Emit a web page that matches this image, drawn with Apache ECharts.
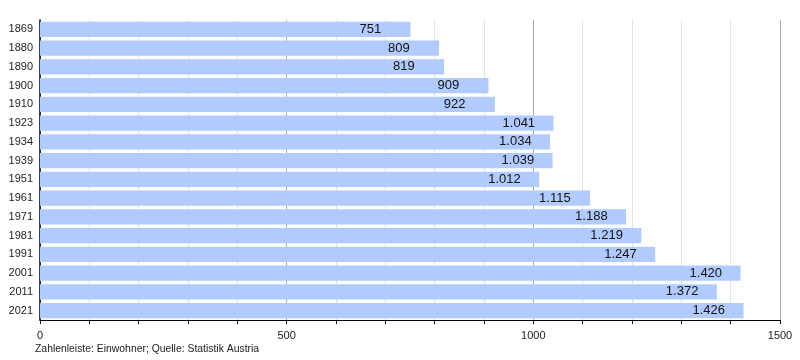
<!DOCTYPE html>
<html><head><meta charset="utf-8">
<script src="https://cdn.jsdelivr.net/npm/echarts@6/dist/echarts.min.js"></script>
<style>html,body{margin:0;padding:0;background:#fff}#c{width:800px;height:360px}</style>
</head><body><div id="c"></div>
<script>
const years = ['1869','1880','1890','1900','1910','1923','1934','1939','1951','1961','1971','1981','1991','2001','2011','2021'];
const population = [751,809,819,909,922,1041,1034,1039,1012,1115,1188,1219,1247,1420,1372,1426];
const xTickLabels = ['0','500','1000','1500'];
const footer = 'Zahlenleiste: Einwohner; Quelle: Statistik Austria';

function fmt(v){ return String(v).replace(/\B(?=(\d{3})+(?!\d))/g,'.'); }

const chart = echarts.init(document.getElementById('c'));
chart.setOption({
  animation:false,
  textStyle:{fontFamily:'Liberation Sans, Arial, sans-serif'},
  grid:{left:40,right:20,top:20,bottom:40},
  graphic:[{type:'text',left:35,top:344,style:{text:footer,fontSize:10.4,fill:'#222',fontFamily:'Liberation Sans, Arial, sans-serif'}}],
  xAxis:{
    type:'value',min:0,max:1500,interval:100,
    axisLine:{show:true,lineStyle:{color:'#000',width:1}},
    axisTick:{show:true,length:4,lineStyle:{color:'#000'}},
    axisLabel:{fontSize:11,color:'#222',margin:10,
      formatter:v=> xTickLabels.indexOf(String(v))>=0 ? String(v) : ''},
    splitLine:{show:true,lineStyle:{color:['#aaaaaa','#e2e2e2','#e2e2e2','#e2e2e2','#e2e2e2'],width:1}}
  },
  yAxis:{
    type:'category',data:years,inverse:true,
    axisLine:{show:true,lineStyle:{color:'#000',width:1.5}},
    axisTick:{show:false},
    axisLabel:{fontSize:11,color:'#222',margin:7},
    splitLine:{show:false}
  },
  series:[{
    type:'bar',data:population,barCategoryGap:'18%',
    itemStyle:{color:'#b2cbfe'},
    label:{show:true,position:'insideRight',align:'left',distance:51,fontSize:13,color:'#111',
      formatter:p=>fmt(p.value)}
  }]
});
</script></body></html>
